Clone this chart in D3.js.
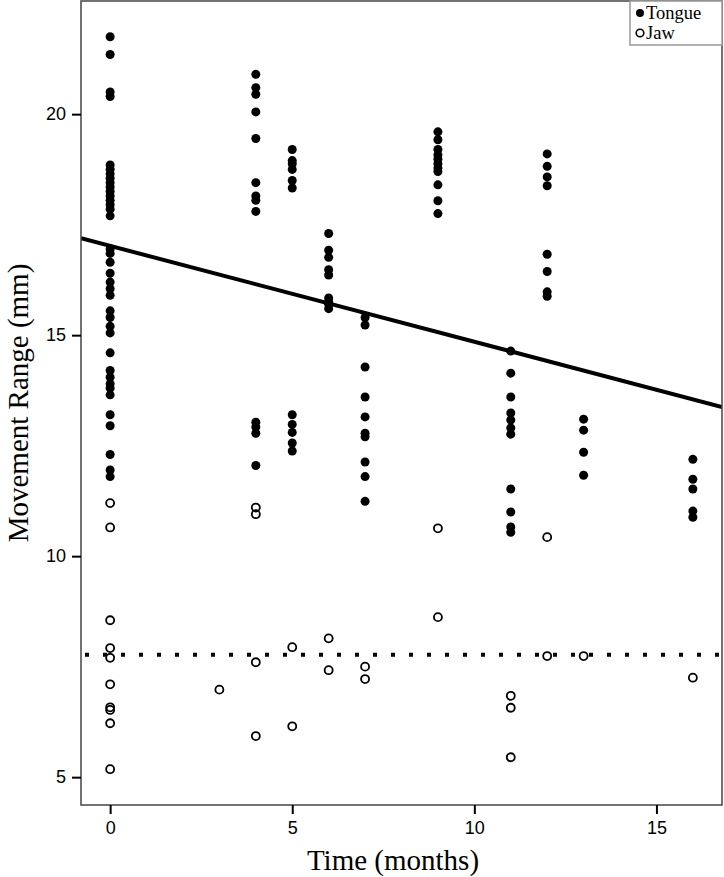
<!DOCTYPE html>
<html><head><meta charset="utf-8">
<script src="https://cdn.jsdelivr.net/npm/d3@7"></script>
<style>body{margin:0;background:#fff}</style>
</head><body>
<svg id="chart" width="724" height="877"></svg>
<script>
// Tongue movement range (mm) by month
const tongueMonths = [0,4,5,6,7,9,11,12,13,16];
const tongueValues = [
  [21.75,21.35,20.5,20.4,18.85,18.75,18.65,18.55,18.45,18.35,18.25,18.15,18.05,17.95,17.85,17.7,16.95,16.85,16.65,16.4,16.2,16.05,15.9,15.55,15.4,15.2,15.05,14.6,14.2,14.05,13.9,13.8,13.65,13.2,12.95,12.3,11.95,11.8],
  [20.9,20.6,20.45,20.05,19.45,18.45,18.15,18.05,17.8,13.03,12.92,12.78,12.05],
  [19.2,18.95,18.88,18.75,18.5,18.33,13.2,12.98,12.8,12.56,12.38],
  [17.3,16.92,16.76,16.48,16.36,15.84,15.76,15.7,15.6],
  [15.4,15.23,14.28,13.6,13.15,12.78,12.7,12.13,11.8,11.24],
  [19.6,19.42,19.2,19.08,18.98,18.88,18.78,18.7,18.4,18.04,17.75],
  [14.64,14.14,13.6,13.24,13.08,12.9,12.76,11.52,11.0,10.66,10.54],
  [19.1,18.82,18.58,18.38,16.83,16.44,15.98,15.88],
  [13.1,12.85,12.35,11.83],
  [12.19,11.74,11.52,11.02,10.88]
];
// Jaw movement range (mm) by month
const jawMonths = [0,3,4,5,6,7,9,11,12,13,16];
const jawValues = [
  [11.2,10.65,8.55,7.92,7.7,7.1,6.58,6.52,6.22,5.18],
  [6.98],
  [11.1,10.95,7.6,5.93],
  [7.94,6.15],
  [8.14,7.42],
  [7.5,7.22],
  [10.63,8.62],
  [6.84,6.57,5.45],
  [10.43,7.74],
  [7.74],
  [7.25]
];
// fitted lines
const tongueFit = {intercept: 17.02, slope: -0.217};
const jawMean = 7.77;
const xTicks = [0,5,10,15];
const yTicks = [5,10,15,20];
const legendLabels = ["Tongue","Jaw"];

const svg = d3.select("#chart");
const L = 81, R = 722, T = 1, B = 805;
const x = d3.scaleLinear().domain([-0.8, 16.8]).range([L, R]);
const y = d3.scaleLinear().domain([4.37, 22.56]).range([B, T]);

const tongue = tongueMonths.flatMap((m,i)=>tongueValues[i].map(v=>({m,v})));
const jaw = jawMonths.flatMap((m,i)=>jawValues[i].map(v=>({m,v})));

svg.append("clipPath").attr("id","clip").append("rect")
  .attr("x",L).attr("y",T).attr("width",R-L).attr("height",B-T);
const plot = svg.append("g").attr("clip-path","url(#clip)");

// lines
const xd = x.domain();
plot.append("line")
  .attr("x1",x(xd[0])).attr("x2",x(xd[1]))
  .attr("y1",y(tongueFit.intercept+tongueFit.slope*xd[0]))
  .attr("y2",y(tongueFit.intercept+tongueFit.slope*xd[1]))
  .attr("stroke","#000").attr("stroke-width",4);
plot.append("line")
  .attr("x1",L+4).attr("x2",R).attr("y1",y(jawMean)).attr("y2",y(jawMean))
  .attr("stroke","#000").attr("stroke-width",4).attr("stroke-dasharray","4 14");

plot.selectAll("circle.t").data(tongue).join("circle").attr("class","t")
  .attr("cx",d=>x(d.m)).attr("cy",d=>y(d.v)).attr("r",4.5).attr("fill","#000");
plot.selectAll("circle.j").data(jaw).join("circle").attr("class","j")
  .attr("cx",d=>x(d.m)).attr("cy",d=>y(d.v)).attr("r",4).attr("fill","none")
  .attr("stroke","#000").attr("stroke-width",1.8);

// frame
svg.append("rect").attr("x",L).attr("y",T).attr("width",R-L).attr("height",B-T)
  .attr("fill","none").attr("stroke","#444").attr("stroke-width",1.5);

// axes
const xAxis = svg.append("g").attr("transform",`translate(0,${B})`)
  .call(d3.axisBottom(x).tickValues(xTicks).tickSize(9).tickPadding(7));
const yAxis = svg.append("g").attr("transform",`translate(${L},0)`)
  .call(d3.axisLeft(y).tickValues(yTicks).tickSize(9).tickPadding(6));
[xAxis,yAxis].forEach(a=>{
  a.select(".domain").remove();
  a.selectAll(".tick line").attr("stroke","#000").attr("stroke-width",2);
  a.selectAll(".tick text").attr("font-family","Liberation Sans, Arial, sans-serif")
   .attr("font-size",18).attr("fill","#000");
});

svg.append("text").attr("x",393).attr("y",870).attr("text-anchor","middle")
  .attr("font-family","Liberation Serif, Times New Roman, serif").attr("font-size",29)
  .text("Time (months)");
svg.append("text").attr("transform",`translate(28,${(T+B)/2}) rotate(-90)`)
  .attr("text-anchor","middle")
  .attr("font-family","Liberation Serif, Times New Roman, serif").attr("font-size",29)
  .text("Movement Range (mm)");

// legend
const lg = svg.append("g");
lg.append("rect").attr("x",630).attr("y",1).attr("width",92).attr("height",44)
  .attr("fill","#fff").attr("stroke","#999").attr("stroke-width",1.5);
legendLabels.forEach((lab,i)=>{
  const cy = 13 + i*20;
  if(i===0) lg.append("circle").attr("cx",640).attr("cy",cy).attr("r",4).attr("fill","#000");
  else lg.append("circle").attr("cx",640).attr("cy",cy).attr("r",3.8).attr("fill","none").attr("stroke","#000").attr("stroke-width",1.6);
  lg.append("text").attr("x",646).attr("y",cy+6).attr("font-family","Liberation Serif, Times New Roman, serif")
    .attr("font-size",18.5).text(lab);
});
</script>
</body></html>
